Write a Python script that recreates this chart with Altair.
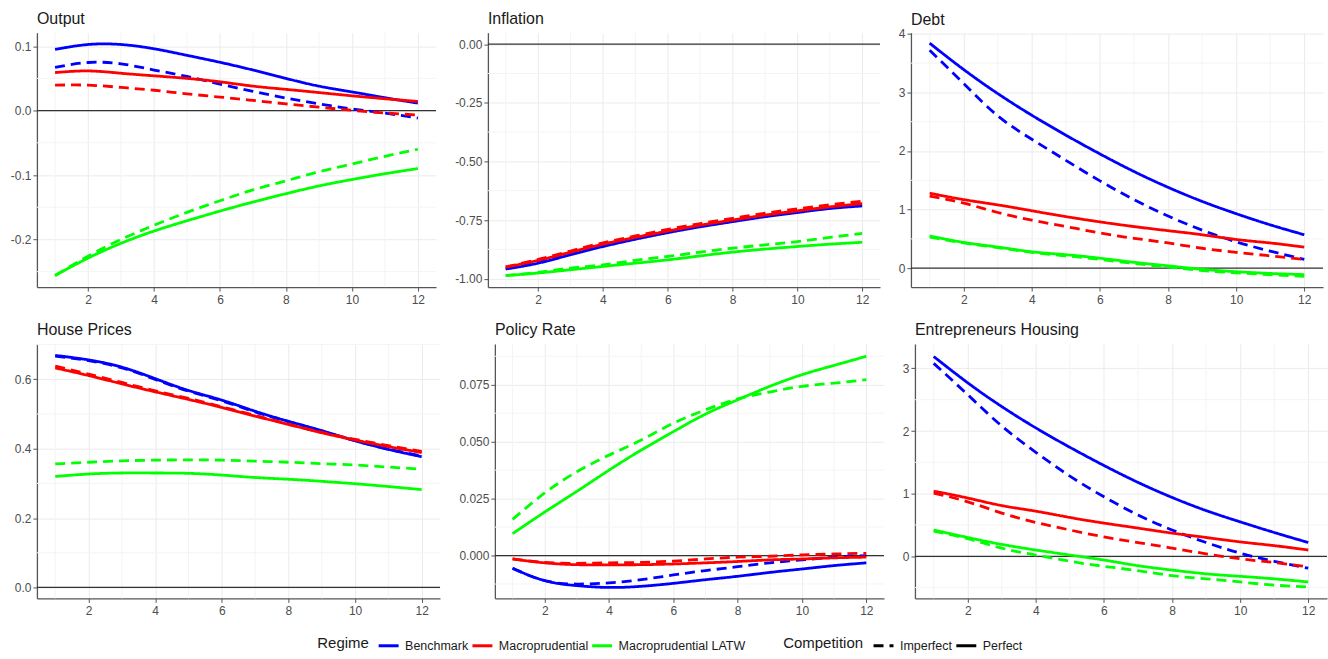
import altair as alt
import pandas as pd

# ---------------- data ----------------
horizon = list(range(1, 13))
regimes = ["Benchmark", "Macroprudential", "Macroprudential LATW"]
competition = ["Imperfect", "Perfect"]
regime_colors = ["#0000FF", "#FF0000", "#00FF00"]

x_major = [2, 4, 6, 8, 10, 12]
x_minor = [1, 3, 5, 7, 9, 11]

# Output
output_bench_imp = [0.067, 0.0747, 0.0726, 0.063, 0.053, 0.041, 0.030, 0.0195, 0.0105, 0.0026, -0.004, -0.0116]
output_bench_per = [0.095, 0.1026, 0.1026, 0.096, 0.0858, 0.075, 0.063, 0.050, 0.038, 0.029, 0.020, 0.0116]
output_macro_imp = [0.0395, 0.0395, 0.036, 0.0316, 0.026, 0.021, 0.0158, 0.0105, 0.0053, 0.0005, -0.0037, -0.0068]
output_macro_per = [0.059, 0.0616, 0.058, 0.054, 0.050, 0.0447, 0.038, 0.033, 0.028, 0.023, 0.0184, 0.0142]
output_latw_imp = [-0.256, -0.226, -0.200, -0.178, -0.158, -0.140, -0.123, -0.109, -0.095, -0.083, -0.071, -0.060]
output_latw_per = [-0.256, -0.229, -0.206, -0.187, -0.171, -0.156, -0.142, -0.129, -0.117, -0.107, -0.098, -0.090]

# Inflation
infl_bench_imp = [-0.957, -0.930, -0.894, -0.858, -0.828, -0.800, -0.775, -0.753, -0.732, -0.713, -0.696, -0.685]
infl_bench_per = [-0.959, -0.934, -0.898, -0.863, -0.832, -0.804, -0.779, -0.757, -0.736, -0.718, -0.701, -0.690]
infl_macro_imp = [-0.950, -0.918, -0.882, -0.847, -0.818, -0.790, -0.765, -0.743, -0.721, -0.702, -0.685, -0.670]
infl_macro_per = [-0.951, -0.922, -0.887, -0.853, -0.824, -0.797, -0.772, -0.750, -0.729, -0.711, -0.694, -0.680]
infl_latw_imp = [-0.987, -0.973, -0.955, -0.941, -0.922, -0.905, -0.887, -0.870, -0.856, -0.842, -0.824, -0.807]
infl_latw_per = [-0.987, -0.976, -0.962, -0.948, -0.934, -0.920, -0.903, -0.887, -0.874, -0.863, -0.853, -0.845]

# Debt
debt_bench_imp = [3.72, 3.15, 2.60, 2.20, 1.84, 1.49, 1.17, 0.89, 0.65, 0.45, 0.29, 0.15]
debt_bench_per = [3.84, 3.39, 2.98, 2.61, 2.27, 1.95, 1.65, 1.38, 1.14, 0.93, 0.74, 0.57]
debt_macro_imp = [1.23, 1.11, 0.95, 0.82, 0.71, 0.60, 0.51, 0.43, 0.34, 0.27, 0.21, 0.15]
debt_macro_per = [1.28, 1.17, 1.08, 0.98, 0.88, 0.79, 0.71, 0.64, 0.57, 0.49, 0.43, 0.36]
debt_latw_imp = [0.53, 0.43, 0.35, 0.27, 0.21, 0.15, 0.08, 0.02, -0.04, -0.08, -0.11, -0.14]
debt_latw_per = [0.55, 0.44, 0.36, 0.28, 0.23, 0.17, 0.10, 0.04, -0.02, -0.06, -0.09, -0.11]

# House Prices
house_bench_imp = [0.667, 0.654, 0.633, 0.600, 0.566, 0.538, 0.506, 0.478, 0.451, 0.423, 0.399, 0.379]
house_bench_per = [0.669, 0.656, 0.635, 0.602, 0.568, 0.540, 0.508, 0.479, 0.452, 0.423, 0.398, 0.377]
house_macro_imp = [0.638, 0.615, 0.591, 0.567, 0.545, 0.521, 0.496, 0.471, 0.447, 0.427, 0.409, 0.392]
house_macro_per = [0.633, 0.611, 0.587, 0.564, 0.542, 0.519, 0.494, 0.470, 0.446, 0.425, 0.406, 0.389]
house_latw_imp = [0.356, 0.361, 0.365, 0.367, 0.368, 0.367, 0.364, 0.361, 0.357, 0.353, 0.347, 0.341]
house_latw_per = [0.320, 0.327, 0.330, 0.330, 0.329, 0.324, 0.317, 0.312, 0.306, 0.299, 0.291, 0.282]

# Policy Rate
rate_bench_imp = [-0.0056, -0.0110, -0.0125, -0.0120, -0.0106, -0.0085, -0.0066, -0.0049, -0.0032, -0.0019, -0.0007, 0.0000]
rate_bench_per = [-0.0056, -0.0110, -0.0132, -0.0140, -0.0135, -0.0122, -0.0106, -0.0091, -0.0074, -0.0059, -0.0044, -0.0032]
rate_macro_imp = [-0.0015, -0.0030, -0.0034, -0.0032, -0.0030, -0.0024, -0.0015, -0.0007, -0.0003, 0.0003, 0.0007, 0.0010]
rate_macro_per = [-0.0015, -0.0032, -0.0040, -0.0041, -0.0040, -0.0037, -0.0032, -0.0026, -0.0019, -0.0015, -0.0010, -0.0007]
rate_latw_imp = [0.0159, 0.0275, 0.0368, 0.0441, 0.0507, 0.0581, 0.0640, 0.0688, 0.0718, 0.0743, 0.0757, 0.0772]
rate_latw_per = [0.0096, 0.0191, 0.0282, 0.0375, 0.0463, 0.0544, 0.0621, 0.0684, 0.0743, 0.0794, 0.0835, 0.0875]

# Entrepreneurs Housing
entr_bench_imp = [3.08, 2.58, 2.08, 1.66, 1.28, 0.95, 0.66, 0.42, 0.22, 0.05, -0.08, -0.19]
entr_bench_per = [3.19, 2.77, 2.39, 2.05, 1.74, 1.45, 1.18, 0.94, 0.73, 0.55, 0.38, 0.22]
entr_macro_imp = [1.01, 0.87, 0.69, 0.54, 0.42, 0.31, 0.22, 0.13, 0.04, -0.04, -0.10, -0.17]
entr_macro_per = [1.04, 0.93, 0.81, 0.72, 0.62, 0.53, 0.45, 0.37, 0.30, 0.23, 0.17, 0.10]
entr_latw_imp = [0.40, 0.28, 0.13, 0.02, -0.08, -0.16, -0.23, -0.31, -0.36, -0.41, -0.46, -0.49]
entr_latw_per = [0.42, 0.30, 0.19, 0.10, 0.02, -0.06, -0.15, -0.22, -0.28, -0.32, -0.36, -0.41]

panels = [
    dict(title="Output",
         series=[output_bench_imp, output_bench_per, output_macro_imp, output_macro_per, output_latw_imp, output_latw_per],
         domain=[-0.274, 0.121], major=[-0.2, -0.1, 0.0, 0.1], minor=[-0.25, -0.15, -0.05, 0.05],
         fmt=".1f", width=400, extent=37, toff=-8),
    dict(title="Inflation",
         series=[infl_bench_imp, infl_bench_per, infl_macro_imp, infl_macro_per, infl_latw_imp, infl_latw_per],
         domain=[-1.036, 0.049], major=[-1.0, -0.75, -0.5, -0.25, 0.0], minor=[-0.875, -0.625, -0.375, -0.125],
         fmt=".2f", width=393, extent=46, toff=-8),
    dict(title="Debt",
         series=[debt_bench_imp, debt_bench_per, debt_macro_imp, debt_macro_per, debt_latw_imp, debt_latw_per],
         domain=[-0.323, 4.02], major=[0, 1, 2, 3, 4], minor=[0.5, 1.5, 2.5, 3.5],
         fmt="d", width=413, extent=25, toff=-13),
    dict(title="House Prices",
         series=[house_bench_imp, house_bench_per, house_macro_imp, house_macro_per, house_latw_imp, house_latw_per],
         domain=[-0.0315, 0.702], major=[0.0, 0.2, 0.4, 0.6], minor=[0.1, 0.3, 0.5, 0.7],
         fmt=".1f", width=404, extent=33, toff=-8),
    dict(title="Policy Rate",
         series=[rate_bench_imp, rate_bench_per, rate_macro_imp, rate_macro_per, rate_latw_imp, rate_latw_per],
         domain=[-0.0188, 0.0929], major=[0.0, 0.025, 0.05, 0.075], minor=[-0.0125, 0.0125, 0.0375, 0.0625, 0.0875],
         fmt=".3f", width=390, extent=49, toff=-8),
    dict(title="Entrepreneurs Housing",
         series=[entr_bench_imp, entr_bench_per, entr_macro_imp, entr_macro_per, entr_latw_imp, entr_latw_per],
         domain=[-0.672, 3.39], major=[0, 1, 2, 3], minor=[-0.5, 0.5, 1.5, 2.5],
         fmt="d", width=413, extent=25, toff=-8),
]

FONT = "Liberation Sans"
MAJOR = "#EBEBEB"
MINOR = "#F4F4F4"
AXIS_C = "#555555"
# legends are placed relative to the first panel's plot origin (37, 33)
ORIGIN_X, ORIGIN_Y = 37, 33

color_legend = alt.Legend(
    title="Regime", orient="none", direction="horizontal", titleOrient="left",
    legendX=318 - ORIGIN_X, legendY=636 - ORIGIN_Y,
    symbolType="stroke", symbolSize=400, symbolStrokeWidth=3,
    labelFontSize=12.5, titleFontSize=15, titleFontWeight="normal",
    labelOffset=5, columnPadding=-3, titlePadding=8,
    labelFont=FONT, titleFont=FONT, labelColor="#1a1a1a", titleColor="#1a1a1a",
)
dash_legend = alt.Legend(
    title="Competition", orient="none", direction="horizontal", titleOrient="left",
    legendX=785 - ORIGIN_X, legendY=636 - ORIGIN_Y,
    symbolType="stroke", symbolSize=400, symbolStrokeWidth=3, symbolStrokeColor="black",
    labelFontSize=12.5, titleFontSize=15, titleFontWeight="normal",
    labelOffset=5, columnPadding=-3, titlePadding=8,
    labelFont=FONT, titleFont=FONT, labelColor="#1a1a1a", titleColor="#1a1a1a",
)

MINUS_FIX = "replace(datum.label, '\u2212', '-')"


def make_panel(p):
    rows = []
    k = 0
    for r in regimes:
        for c in competition:
            for h, v in zip(horizon, p["series"][k]):
                rows.append({"h": h, "value": v, "regime": r, "competition": c})
            k += 1
    df = pd.DataFrame(rows)

    xs = alt.Scale(domain=[0.45, 12.55], nice=False, zero=False)
    ys = alt.Scale(domain=p["domain"], nice=False, zero=False)

    xaxis = alt.Axis(values=x_major, title=None, grid=True, gridColor=MAJOR, gridWidth=1,
                     domainColor=AXIS_C, domainWidth=1.3, tickColor=AXIS_C, tickSize=4,
                     labelColor="#4D4D4D", labelFontSize=12, labelFont=FONT, labelPadding=3,
                     minExtent=20, maxExtent=20, labelFlush=False)
    yaxis = alt.Axis(values=p["major"], format=p["fmt"], labelExpr=MINUS_FIX, title=None,
                     grid=True, gridColor=MAJOR, gridWidth=1,
                     domainColor=AXIS_C, domainWidth=1.3, tickColor=AXIS_C, tickSize=4,
                     labelColor="#4D4D4D", labelFontSize=12, labelFont=FONT, labelPadding=2,
                     minExtent=p["extent"], maxExtent=p["extent"], labelFlush=False)

    ygrid = alt.Chart(pd.DataFrame({"v": p["minor"]})).mark_rule(color=MINOR, strokeWidth=1).encode(
        y=alt.Y("v:Q", scale=ys, axis=yaxis))
    xgrid = alt.Chart(pd.DataFrame({"g": x_minor})).mark_rule(color=MINOR, strokeWidth=1).encode(
        x=alt.X("g:Q", scale=xs, axis=xaxis))
    zero = alt.Chart(pd.DataFrame({"z": [0]})).mark_rule(color="#333333", strokeWidth=1.2).encode(
        y=alt.Y("z:Q", scale=ys, axis=yaxis))

    lines = alt.Chart(df).mark_line(strokeWidth=2.8, interpolate="natural", clip=True).encode(
        x=alt.X("h:Q", scale=xs, axis=xaxis),
        y=alt.Y("value:Q", scale=ys, axis=yaxis),
        color=alt.Color("regime:N", scale=alt.Scale(domain=regimes, range=regime_colors), legend=color_legend),
        strokeDash=alt.StrokeDash("competition:N",
                                  scale=alt.Scale(domain=competition, range=[[10, 6], [1, 0]]),
                                  legend=dash_legend),
    )

    return alt.layer(ygrid, xgrid, zero, lines).properties(
        width=p["width"], height=255,
        title=alt.Title(p["title"], anchor="start", frame="group", fontSize=16, font=FONT,
                        fontWeight="normal", color="#1a1a1a", offset=p["toff"], baseline="alphabetic"),
    )


row1 = alt.hconcat(*[make_panel(p) for p in panels[:3]], spacing=5)
row2 = alt.hconcat(*[make_panel(p) for p in panels[3:]], spacing=5)

chart = alt.vconcat(row1, row2, spacing=15).properties(
    padding={"left": 0, "top": 10, "right": 0, "bottom": 0},
    background="white",
).configure_view(stroke=None)

chart.save("out.html", embed_options={"renderer": "svg", "actions": False})
